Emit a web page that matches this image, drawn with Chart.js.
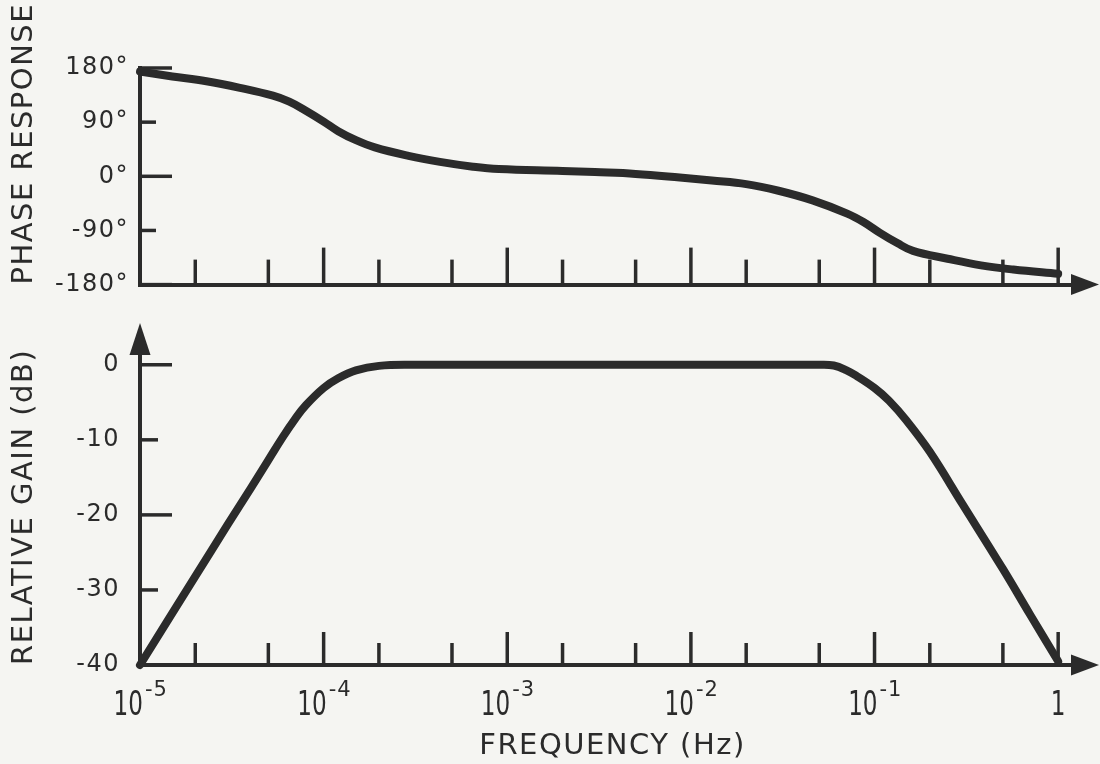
<!DOCTYPE html>
<html><head><meta charset="utf-8">
<script src="https://cdn.jsdelivr.net/npm/chart.js@4.4.0/dist/chart.umd.min.js"></script>
<style>
html,body{margin:0;padding:0;background:#f5f5f2;width:1100px;height:764px;overflow:hidden;}
canvas{position:absolute;left:0;}
#phase{top:0}
#gain{top:300px}
</style></head><body>
<canvas id="phase" width="1100" height="310"></canvas>
<canvas id="gain" width="1100" height="464"></canvas>
<script>
// ---- data ----
const phaseFreq = [1e-5, 1.5e-5, 2.3e-5, 3.5e-5, 5.3e-5, 6.5e-5, 8e-5, 1e-4, 1.2e-4, 1.5e-4, 1.9e-4, 2.9e-4, 4.3e-4, 6.5e-4, 9e-4, 2e-3, 3e-3, 5e-3, 8.7e-3, 1.3e-2, 2e-2, 3e-2, 4.6e-2, 7.1e-2, 8.7e-2, 0.107, 0.133, 0.162, 0.25, 0.38, 0.57, 1];
const phaseDeg = [174, 166, 158, 147, 134, 124, 109, 91, 75, 60, 48, 34, 24, 16, 12, 9, 7, 4, -2, -7, -13, -24, -40, -62, -76, -94, -111, -124, -137, -148, -155, -162];

const gainFreq = [1e-5, 2e-5, 3e-5, 4e-5, 5e-5, 6e-5, 7e-5, 8e-5, 1e-4, 1.2e-4, 1.5e-4, 2e-4, 3e-4, 1e-3, 1e-2, 5e-2, 6e-2, 7e-2, 8e-2, 0.1, 0.12, 0.15, 0.2, 0.3, 0.5, 0.7, 1];
const gainDb = [-40, -28.2, -21.3, -16.5, -12.7, -9.6, -7.2, -5.4, -3.1, -1.8, -0.75, -0.15, 0, 0, 0, 0, -0.1, -0.7, -1.5, -3.1, -4.8, -7.5, -11.6, -18.5, -27.2, -33.2, -39.5];

const xTickValues = [1e-5, 2e-5, 5e-5, 1e-4, 2e-4, 5e-4, 1e-3, 2e-3, 5e-3, 1e-2, 2e-2, 5e-2, 1e-1, 2e-1, 5e-1, 1];
const xDecades = [1e-5, 1e-4, 1e-3, 1e-2, 1e-1, 1];
const xDecadeBase = ['10', '10', '10', '10', '10', '1'];
const xDecadeExp = ['-5', '-4', '-3', '-2', '-1', ''];
const phaseTicks = [-180, -90, 0, 90, 180];
const phaseTickLabels = ['-180°', '-90°', '0°', '90°', '180°'];
const gainTicks = [-40, -30, -20, -10, 0];
const gainTickLabels = ['-40', '-30', '-20', '-10', '0'];

const xTitle = 'FREQUENCY (Hz)';
const phaseTitle = 'PHASE RESPONSE';
const gainTitle = 'RELATIVE GAIN (dB)';

const INK = '#2b2b2b';
const FONT = "'DejaVu Sans', sans-serif";

const isDecade = v => { const l = Math.log10(v); return Math.abs(Math.round(l) - l) < 1e-9; };

const decor = {
  id: 'decor',
  beforeDraw(chart) { chart.ctx.letterSpacing = '1.5px'; },
  beforeDatasetsDraw(chart, args, o) {
    const ctx = chart.ctx, xs = chart.scales.x, ys = chart.scales.y, a = chart.chartArea;
    ctx.save();
    ctx.strokeStyle = INK; ctx.lineCap = 'butt';
    ctx.lineWidth = 3.5;
    xs.ticks.forEach(t => {
      const px = xs.getPixelForValue(t.value);
      const len = isDecade(t.value) ? o.xMajor : o.xMinor;
      ctx.beginPath(); ctx.moveTo(px, a.bottom); ctx.lineTo(px, a.bottom - len); ctx.stroke();
    });
    ys.ticks.forEach((t, i) => {
      const py = ys.getPixelForValue(t.value);
      const n = ys.ticks.length - 1 - i;
      const len = n % 2 === 0 ? o.yMajor : o.yMinor;
      ctx.beginPath(); ctx.moveTo(a.left, py); ctx.lineTo(a.left + len, py); ctx.stroke();
    });
    ctx.restore();
  },
  afterDraw(chart, args, o) {
    const ctx = chart.ctx, xs = chart.scales.x, a = chart.chartArea;
    ctx.save();
    ctx.fillStyle = INK; ctx.strokeStyle = INK;
    // x arrow
    ctx.beginPath();
    ctx.moveTo(a.right - 14, a.bottom - 10.5);
    ctx.lineTo(a.right + 14, a.bottom);
    ctx.lineTo(a.right - 14, a.bottom + 10.5);
    ctx.closePath(); ctx.fill();
    if (o.yArrow) {
      ctx.lineWidth = 4;
      ctx.beginPath(); ctx.moveTo(a.left, a.top); ctx.lineTo(a.left, a.top - 10); ctx.stroke();
      ctx.beginPath();
      ctx.moveTo(a.left - 10.5, a.top + 15);
      ctx.lineTo(a.left, a.top - 17);
      ctx.lineTo(a.left + 10.5, a.top + 15);
      ctx.closePath(); ctx.fill();
    }
    if (o.xLabels) {
      ctx.letterSpacing = '0px';
      const base = a.bottom + 50, expBase = a.bottom + 31;
      xDecades.forEach((v, i) => {
        const px = xs.getPixelForValue(v);
        ctx.save();
        ctx.font = '33px ' + FONT;
        ctx.textBaseline = 'alphabetic';
        if (xDecadeExp[i]) {
          ctx.translate(px + 3, base); ctx.scale(0.7, 1);
          ctx.textAlign = 'right';
        } else {
          ctx.translate(px, base); ctx.scale(0.7, 1);
          ctx.textAlign = 'center';
        }
        ctx.fillText(xDecadeBase[i], 0, 0);
        ctx.restore();
        if (xDecadeExp[i]) {
          ctx.font = '21px ' + FONT;
          ctx.textAlign = 'left';
          ctx.letterSpacing = '1px';
          ctx.fillText(xDecadeExp[i], px + 5, expBase);
          ctx.letterSpacing = '0px';
        }
      });
    }
    ctx.restore();
  }
};

function makeChart(id, freqs, values, yMin, yMax, yTicks, yLabels, yTitle, opts) {
  return new Chart(document.getElementById(id), {
    type: 'line',
    data: {
      datasets: [{
        data: freqs.map((f, i) => ({ x: f, y: values[i] })),
        borderColor: INK, borderWidth: 8, pointRadius: 0, fill: false,
        tension: 0.4, cubicInterpolationMode: 'default', clip: false, borderCapStyle: 'round'
      }]
    },
    options: {
      responsive: false, animation: false, devicePixelRatio: 1,
      layout: { autoPadding: false, padding: { top: opts.padTop, right: 15, left: 0, bottom: 0 } },
      plugins: { legend: { display: false }, tooltip: { enabled: false }, decor: opts.decor },
      scales: {
        x: {
          type: 'logarithmic', min: 1e-5, max: 1.4,
          afterBuildTicks: s => { s.ticks = xTickValues.map(v => ({ value: v, major: isDecade(v) })); },
          afterFit: s => { s.height = opts.xHeight; },
          grid: { display: false, drawTicks: false },
          border: { display: true, color: INK, width: 4 },
          ticks: { display: false },
          title: {
            display: opts.xTitle, text: xTitle, color: INK,
            font: { family: FONT, size: 29, lineHeight: 1.2 }, padding: { top: 0, bottom: 0 }
          }
        },
        y: {
          min: yMin, max: yMax,
          afterBuildTicks: s => { s.ticks = yTicks.map(v => ({ value: v })); },
          afterFit: s => { s.width = 140; },
          grid: { display: false, drawTicks: false },
          border: { display: true, color: INK, width: 4 },
          ticks: {
            color: INK, font: { family: FONT, size: 24 }, padding: opts.tickPad,
            callback: v => yLabels[yTicks.indexOf(v)]
          },
          title: {
            display: true, text: yTitle, color: INK, align: 'start',
            font: { family: FONT, size: 29, lineHeight: 1.2 }, padding: { top: 7, bottom: 0 }
          }
        }
      }
    },
    plugins: [decor]
  });
}

makeChart('phase', phaseFreq, phaseDeg, -180, 180, phaseTicks, phaseTickLabels, phaseTitle, {
  padTop: 68, xHeight: 18, tickPad: 11, xTitle: false,
  decor: { xMajor: 37, xMinor: 25, yMajor: 32, yMinor: 16, yArrow: false, xLabels: false }
});
makeChart('gain', gainFreq, gainDb, -40, 3.3, gainTicks, gainTickLabels, gainTitle, {
  padTop: 40, xHeight: 99, tickPad: 20, xTitle: true,
  decor: { xMajor: 33, xMinor: 22, yMajor: 32, yMinor: 18, yArrow: true, xLabels: true }
});
</script>
</body></html>
